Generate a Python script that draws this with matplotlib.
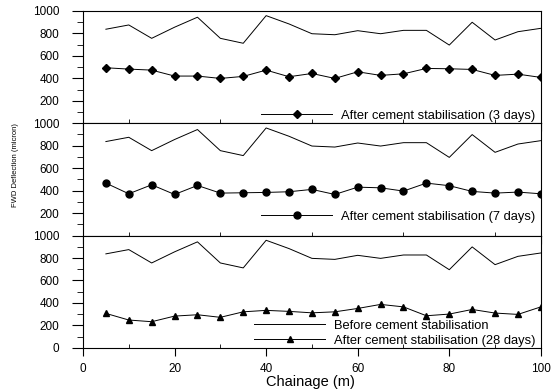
"""
deflection before/after cement stabilisation, three stacked panels
"""

import numpy as np
import matplotlib.pyplot as plt
from matplotlib.ticker import MultipleLocator

plt.rcParams["font.family"] = ["Liberation Sans", "DejaVu Sans"]

chainage = np.arange(5, 101, 5)
before = [837, 875, 756, 855, 944, 756, 712, 958, 884, 797,
          788, 824, 797, 827, 827, 696, 899, 741, 815, 845]
after_3d = [494, 482, 473, 420, 420, 399, 417, 473, 414, 443,
            399, 458, 426, 440, 488, 485, 479, 426, 437, 408]
after_7d = [467, 372, 452, 366, 446, 378, 381, 384, 390, 411,
            366, 431, 425, 396, 467, 444, 393, 378, 387, 372]
after_28d = [307, 248, 233, 283, 295, 272, 321, 334, 325, 312,
             321, 351, 387, 365, 286, 301, 342, 310, 298, 365]

panels = [
    (after_3d, "D", "After cement stabilisation (3 days)", -0.035),
    (after_7d, "o", "After cement stabilisation (7 days)", 0.07),
    (after_28d, "^", "After cement stabilisation (28 days)", -0.035),
]

fig, axes = plt.subplots(3, 1, sharex=True, figsize=(5.57, 3.9), dpi=100)
fig.subplots_adjust(left=0.149, right=0.971, top=0.972, bottom=0.108, hspace=0)

for i, (ax, (after, mk, lab, ly)) in enumerate(zip(axes, panels)):
    l1, = ax.plot(chainage, before, color="black", lw=0.7,
                  label="Before cement stabilisation")
    l2, = ax.plot(chainage, after, color="black", lw=0.7, marker=mk,
                  ms=4 if mk == "D" else 5, label=lab)
    handles = [l1, l2] if i == 2 else [l2]
    ax.legend(handles=handles, loc="lower right", bbox_to_anchor=(1.0, ly),
              frameon=False, fontsize=9.3, handlelength=5.5, borderaxespad=0,
              labelspacing=0.2, handletextpad=0.7)
    ax.set_ylim(0, 1000)
    ax.set_xlim(0, 100)
    ax.yaxis.set_major_locator(MultipleLocator(200))
    ax.yaxis.set_minor_locator(MultipleLocator(100))
    ax.xaxis.set_minor_locator(MultipleLocator(10))
    ax.tick_params(labelsize=8.5, width=0.8)
    ax.tick_params(axis="y", length=8, pad=9)
    ax.tick_params(axis="x", length=6, pad=5)
    ax.tick_params(which="minor", width=0.6, length=4)
    ax.tick_params(axis="x", which="minor", direction="in", length=3)
    for s in ax.spines.values():
        s.set_linewidth(0.8)
    if i < 2:
        ax.set_yticks([200, 400, 600, 800, 1000])
    else:
        ax.set_yticks([0, 200, 400, 600, 800, 1000])

fig.text(310 / 557, 1 - 382 / 390, "Chainage (m)", fontsize=10.5,
         ha="center", va="center")
fig.text(0.027, 0.577, "FWD Deflection (micron)", rotation=90,
         fontsize=5.5, va="center", ha="center")

fig.savefig("out.png")
